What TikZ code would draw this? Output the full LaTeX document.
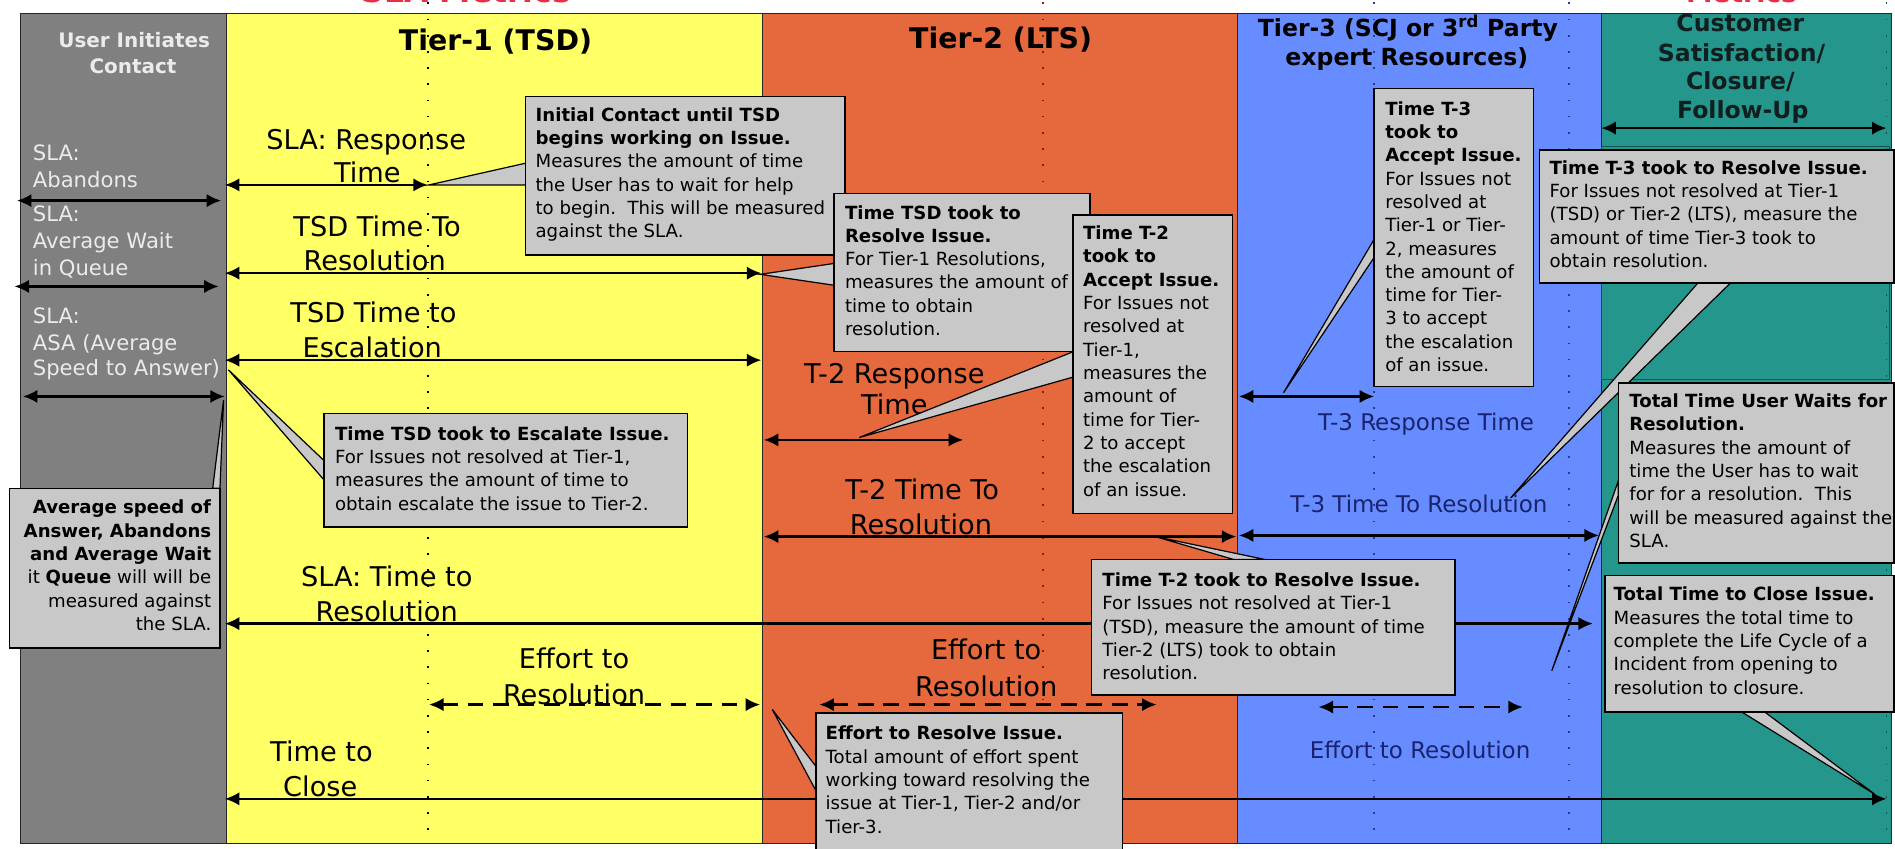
\documentclass[tikz,border=0pt]{standalone}
\usepackage{fontspec}
\setmainfont{DejaVu Sans}
\usetikzlibrary{arrows.meta,calc}

\definecolor{colGray}{RGB}{128,128,128}
\definecolor{colYellow}{RGB}{255,255,102}
\definecolor{colOrange}{RGB}{229,105,60}
\definecolor{colBlue}{RGB}{102,140,255}
\definecolor{colTeal}{RGB}{36,150,140}
\definecolor{noteFill}{RGB}{200,200,200}
\definecolor{navy}{RGB}{25,35,110}
\definecolor{headRed}{RGB}{235,45,70}
\definecolor{tealEdge}{RGB}{20,85,80}
\definecolor{tealText}{RGB}{15,30,30}
\definecolor{dotRed}{RGB}{140,30,20}
\definecolor{dotBlue}{RGB}{40,60,150}
\definecolor{labelWhite}{RGB}{235,235,235}

\begin{document}
\begin{tikzpicture}[x=1pt,y=-1pt,
  column/.style={draw=black!85,line width=0.7pt},
  span/.style={line width=2pt,{Latex[length=12pt,width=11pt]}-{Latex[length=12pt,width=11pt]}},
  dspan/.style={span,dash pattern=on 13pt off 8pt},
  dots/.style={line width=1.4pt,dash pattern=on 1.4pt off 12pt},
  big/.style={font=\fontsize{22.5}{28}\selectfont,anchor=base,inner sep=0pt},
  blab/.style={font=\fontsize{19}{24}\selectfont,anchor=base,inner sep=0pt,text=navy},
  glab/.style={font=\fontsize{17.5}{22}\selectfont,anchor=base west,inner sep=0pt,text=labelWhite},
  head/.style={font=\fontsize{19.5}{24}\selectfont\bfseries,anchor=base,inner sep=0pt},
  notebox/.style={draw=black,line width=1.2pt,fill=noteFill,anchor=north west,inner sep=0pt,outer sep=0pt},
  notetext/.style={font=\fontsize{15}{19.3}\selectfont,align=left,anchor=north west,inner sep=0pt},
  tail/.style={draw=black,line width=1pt,fill=noteFill,line join=miter}]

\useasboundingbox (0,0) rectangle (1568,702);
\fill[white] (0,0) rectangle (1568,702);

% ---- swim lanes
\draw[column,fill=colGray]   (17,11)   rectangle (187,698);
\draw[column,fill=colYellow] (187,11)  rectangle (631,698);
\draw[column,fill=colOrange] (631,11)  rectangle (1024,698);
\draw[column,fill=colBlue]   (1024,11) rectangle (1325,698);
\draw[column,fill=colTeal]   (1325,11) rectangle (1565,698);
\draw[tealEdge,line width=0.8pt] (1325,121) rectangle (1563,314);

% ---- dotted guide lines
\draw[dots,black]    (354,2)  -- (354,697);
\draw[dots,dotRed]   (863,2)  -- (863,697);
\draw[dots,dotBlue]  (1137,2) -- (1137,697);
\draw[dots,dotBlue]  (1298,2) -- (1298,697);
\draw[dots,tealEdge] (1561,2) -- (1561,697);

% ---- section titles above the lanes (only their lower edge lies on the page)
\begin{scope}
  \clip (0,0) rectangle (1568,702);
  \node[anchor=base,inner sep=0pt,text=headRed,font=\fontsize{26}{30}\selectfont\bfseries] (ttlSla) at (386,2) {SLA Metrics};
  \node[anchor=base,inner sep=0pt,text=headRed,font=\fontsize{22}{26}\selectfont\bfseries] (ttlOther) at (1441,2) {Metrics};
\end{scope}

% ---- lane headers
\node[head,font=\fontsize{16.5}{20}\selectfont\bfseries,text=labelWhite] (user1) at (111,39) {User Initiates};
\node[head,font=\fontsize{16.5}{20}\selectfont\bfseries,text=labelWhite] (user2) at (110,61) {Contact};
\node[head,font=\fontsize{23.5}{28}\selectfont\bfseries] (tier1) at (410,41.5) {Tier-1 (TSD)};
\node[head,font=\fontsize{23.5}{28}\selectfont\bfseries] (tier2) at (828,40.5) {Tier-2 (LTS)};
\node[head] (tier3a) at (1165,30) {Tier-3 (SCJ or 3\textsuperscript{rd} Party};
\node[head] (tier3b) at (1164,54) {expert Resources)};
\node[head,text=tealText] (cs1) at (1440,26) {Customer};
\node[head,text=tealText] (cs2) at (1441,51) {Satisfaction/};
\node[head,text=tealText] (cs3) at (1440,74) {Closure/};
\node[head,text=tealText] (cs4) at (1442,98) {Follow-Up};

% ---- user lane labels
\node[glab] (ab1) at (27,133) {SLA:};
\node[glab] (ab2) at (27,155) {Abandons};
\node[glab] (aw1) at (27,183) {SLA:};
\node[glab] (aw2) at (27,206) {Average Wait};
\node[glab] (aw3) at (27,228) {in Queue};
\node[glab] (as1) at (27,268) {SLA:};
\node[glab] (as2) at (27,290) {ASA (Average};
\node[glab] (as3) at (27,311) {Speed to Answer)};

% ---- measurement labels
\node[big] (slaResp1) at (303,124) {SLA: Response};
\node[big] (slaResp2) at (304,151) {Time};
\node[big] (tsdRes1) at (312,196) {TSD Time To};
\node[big] (tsdRes2) at (310,224) {Resolution};
\node[big] (tsdEsc1) at (309,267) {TSD Time to};
\node[big] (tsdEsc2) at (308,296) {Escalation};
\node[big] (slaTtr1) at (320,485) {SLA: Time to};
\node[big] (slaTtr2) at (320,514) {Resolution};
\node[big] (effA1) at (475,553) {Effort to};
\node[big] (effA2) at (475,583) {Resolution};
\node[big] (close1) at (266,630) {Time to};
\node[big] (close2) at (265,659) {Close};
\node[big] (t2resp1) at (740,317) {T-2 Response};
\node[big] (t2resp2) at (740,343) {Time};
\node[big] (t2ttr1) at (763,413) {T-2 Time To};
\node[big] (t2ttr2) at (762,442) {Resolution};
\node[big] (effB1) at (816,546) {Effort to};
\node[big] (effB2) at (816,576) {Resolution};
\node[blab] (t3resp) at (1180,356) {T-3 Response Time};
\node[blab] (t3ttr) at (1174,424) {T-3 Time To Resolution};
\node[blab] (effC) at (1175,628) {Effort to Resolution};

% ---- span end points
\coordinate (g1a) at (14,166);   \coordinate (g1b) at (183,166);
\coordinate (g2a) at (12,237);   \coordinate (g2b) at (181,237);
\coordinate (g3a) at (19,328);   \coordinate (g3b) at (186,328);
\coordinate (y1a) at (186,153);  \coordinate (y1b) at (354,153);
\coordinate (y2a) at (186,226);  \coordinate (y2b) at (630,226);
\coordinate (y3a) at (186,298);  \coordinate (y3b) at (630,298);
\coordinate (s1a) at (186,516);  \coordinate (s1b) at (1318,516);
\coordinate (e1a) at (355,583);  \coordinate (e1b) at (629,583);
\coordinate (c0a) at (186,661);  \coordinate (c0b) at (1561,661);
\coordinate (o1a) at (632,364);  \coordinate (o1b) at (797,364);
\coordinate (o2a) at (632,444);  \coordinate (o2b) at (1023,444);
\coordinate (e2a) at (678,583);  \coordinate (e2b) at (957,583);
\coordinate (b1a) at (1025,328); \coordinate (b1b) at (1137,328);
\coordinate (b2a) at (1025,443); \coordinate (b2b) at (1323,443);
\coordinate (e3a) at (1091,585); \coordinate (e3b) at (1260,585);
\coordinate (f1a) at (1325,106); \coordinate (f1b) at (1561,106);

\draw[span] (g1a) -- (g1b);
\draw[span] (g2a) -- (g2b);
\draw[span] (g3a) -- (g3b);
\draw[span] (y1a) -- (y1b);
\draw[span] (y2a) -- (y2b);
\draw[span] (y3a) -- (y3b);
\draw[span] (s1a) -- (s1b);
\draw[dspan] (e1a) -- (e1b);
\draw[span] (c0a) -- (c0b);
\draw[span] (o1a) -- (o1b);
\draw[span] (o2a) -- (o2b);
\draw[dspan] (e2a) -- (e2b);
\draw[span] (b1a) -- (b1b);
\draw[span] (b2a) -- (b2b);
\draw[dspan] (e3a) -- (e3b);
\draw[span] (f1a) -- (f1b);

% ---- callout tips
\coordinate (tip1) at (355,153);
\coordinate (tip2) at (629,227);
\coordinate (tip3) at (711,362);
\coordinate (tip10) at (189,306);
\coordinate (tip4) at (1062,325);
\coordinate (tip5) at (1250,412);
\coordinate (tip6) at (1284,555);
\coordinate (tip7) at (1551,657);
\coordinate (tip8) at (956,444);
\coordinate (tip9) at (639,587);
\coordinate (tipG) at (185,331);

% ---- callouts
\node[notebox,minimum width=264pt,minimum height=131pt] (c1) at (435,80) {};
\draw[tail] ($(c1.north west)+(0,55)$) -- (tip1) -- ($(c1.north west)+(0,73)$) -- cycle;
\node[notebox,minimum width=264pt,minimum height=131pt] at (c1.north west) {};
\node[notetext] (c1t) at (443,86.5) {\strut\textbf{Initial Contact until TSD}\\\textbf{begins working on Issue.}\\Measures the amount of time\\the User has to wait for help\\to begin.\ \ This will be measured\\against the SLA.};

\node[notebox,minimum width=212pt,minimum height=131pt] (c2) at (690,160) {};
\draw[tail] ($(c2.north west)+(0,58)$) -- (tip2) -- ($(c2.north west)+(0,76)$) -- cycle;
\node[notebox,minimum width=212pt,minimum height=131pt] at (c2.north west) {};
\node[notetext] (c2t) at (699,167.5) {\strut\textbf{Time TSD took to}\\\textbf{Resolve Issue.}\\For Tier-1 Resolutions,\\measures the amount of\\time to obtain\\resolution.};

\node[notebox,minimum width=132pt,minimum height=247pt] (c3) at (888,178) {};
\draw[tail] ($(c3.north west)+(0,113)$) -- (tip3) -- ($(c3.north west)+(0,134)$) -- cycle;
\node[notebox,minimum width=132pt,minimum height=247pt] at (c3.north west) {};
\node[notetext] (c3t) at (896,184.5) {\strut\textbf{Time T-2}\\\textbf{took to}\\\textbf{Accept Issue.}\\For Issues not\\resolved at\\Tier-1,\\measures the\\amount of\\time for Tier-\\2 to accept\\the escalation\\of an issue.};

\node[notebox,minimum width=301pt,minimum height=94pt] (c10) at (268,342) {};
\draw[tail] ($(c10.north west)+(0,39)$) -- (tip10) -- ($(c10.north west)+(0,55)$) -- cycle;
\node[notebox,minimum width=301pt,minimum height=94pt] at (c10.north west) {};
\node[notetext] (c10t) at (277,350.5) {\strut\textbf{Time TSD took to Escalate Issue.}\\For Issues not resolved at Tier-1,\\measures the amount of time to\\obtain escalate the issue to Tier-2.};

\node[notebox,minimum width=132pt,minimum height=247pt] (c4) at (1137,73) {};
\draw[tail] ($(c4.north west)+(0,125)$) -- (tip4) -- ($(c4.north west)+(0,140)$) -- cycle;
\node[notebox,minimum width=132pt,minimum height=247pt] at (c4.north west) {};
\node[notetext] (c4t) at (1146,81.5) {\strut\textbf{Time T-3}\\\textbf{took to}\\\textbf{Accept Issue.}\\For Issues not\\resolved at\\Tier-1 or Tier-\\2, measures\\the amount of\\time for Tier-\\3 to accept\\the escalation\\of an issue.};

\node[notebox,minimum width=293pt,minimum height=110pt] (c5) at (1274,124) {};
\draw[tail] ($(c5.south west)+(131,0)$) -- (tip5) -- ($(c5.south west)+(158,0)$) -- cycle;
\node[notebox,minimum width=293pt,minimum height=110pt] at (c5.north west) {};
\node[notetext] (c5t) at (1282,130.5) {\strut\textbf{Time T-3 took to Resolve Issue.}\\For Issues not resolved at Tier-1\\(TSD) or Tier-2 (LTS), measure the\\amount of time Tier-3 took to\\obtain resolution.};

\node[notebox,minimum width=228pt,minimum height=149pt] (c6) at (1339,317) {};
\draw[tail] ($(c6.north west)+(0,81)$) -- (tip6) -- ($(c6.north west)+(0,93)$) -- cycle;
\node[notebox,minimum width=228pt,minimum height=149pt] at (c6.north west) {};
\node[notetext] (c6t) at (1348,323.5) {\strut\textbf{Total Time User Waits for}\\\textbf{Resolution.}\\Measures the amount of\\time the User has to wait\\for for a resolution.\ \ This\\will be measured against the\\SLA.};

\node[notebox,minimum width=301pt,minimum height=112pt] (c8) at (903,463) {};
\draw[tail] ($(c8.north west)+(118,0)$) -- (tip8) -- ($(c8.north west)+(144,0)$) -- cycle;
\node[notebox,minimum width=301pt,minimum height=112pt] at (c8.north west) {};
\node[notetext] (c8t) at (912,471.5) {\strut\textbf{Time T-2 took to Resolve Issue.}\\For Issues not resolved at Tier-1\\(TSD), measure the amount of time\\Tier-2 (LTS) took to obtain\\resolution.};

\node[notebox,minimum width=239pt,minimum height=113pt] (c7) at (1328,476) {};
\draw[tail] ($(c7.south west)+(113,0)$) -- (tip7) -- ($(c7.south west)+(132,0)$) -- cycle;
\node[notebox,minimum width=239pt,minimum height=113pt] at (c7.north west) {};
\node[notetext] (c7t) at (1335,483.5) {\strut\textbf{Total Time to Close Issue.}\\Measures the total time to\\complete the Life Cycle of a\\Incident from opening to\\resolution to closure.};

\node[notebox,minimum width=254pt,minimum height=115pt] (c9) at (675,590) {};
\draw[tail] ($(c9.north west)+(0,44)$) -- (tip9) -- ($(c9.north west)+(0,64)$) -- cycle;
\node[notebox,minimum width=254pt,minimum height=115pt] at (c9.north west) {};
\node[notetext] (c9t) at (683,598.5) {\strut\textbf{Effort to Resolve Issue.}\\Total amount of effort spent\\working toward resolving the\\issue at Tier-1, Tier-2 and/or\\Tier-3.};

\node[notebox,minimum width=174pt,minimum height=132pt] (cg) at (8,404) {};
\draw[tail] ($(cg.north east)+(-6,0)$) -- (tipG) -- (cg.north east) -- cycle;
\node[notebox,minimum width=174pt,minimum height=132pt] at (cg.north west) {};
\node[notetext,align=right,anchor=north east] (cgt) at (175,411.5) {\strut\textbf{Average speed of}\\\textbf{Answer, Abandons}\\\textbf{and Average Wait}\\it \textbf{Queue} will will be\\measured against\\the SLA.};

\end{tikzpicture}
\end{document}
